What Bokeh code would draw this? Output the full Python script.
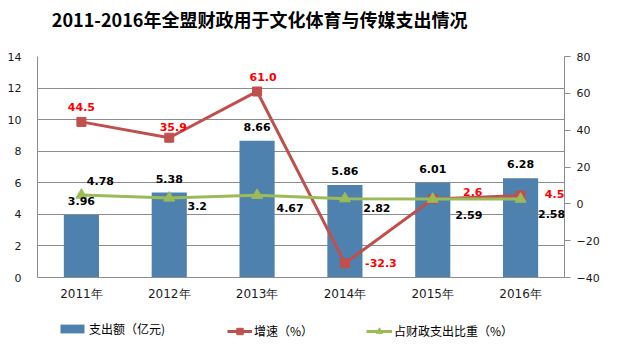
from bokeh.plotting import figure
from bokeh.layouts import column
from bokeh.models import (ColumnDataSource, Range1d, LinearAxis, FixedTicker, Label,
                          LabelSet, Legend, LegendItem)
from bokeh.core.properties import value
from bokeh.embed import file_html
from bokeh.resources import INLINE

years = ["2011年", "2012年", "2013年", "2014年", "2015年", "2016年"]
spend = [3.96, 5.38, 8.66, 5.86, 6.01, 6.28]
growth = [44.5, 35.9, 61.0, -32.3, 2.6, 4.5]
share = [4.78, 3.2, 4.67, 2.82, 2.59, 2.58]

spend_lbl = ["%.2f" % v for v in spend]
growth_lbl = ["%.1f" % v for v in growth]
share_lbl = [str(v) for v in share]

# label offsets (screen px) - style only
share_dx = [19, 28, 33, 32, 36, 31]
share_dy = [14, -8, -13, -9, -16, -15]
growth_dx = [0, 4, 6, 36, 40, 34]
growth_dy = [15, 11, 14, 0, 7, 2]

src = ColumnDataSource(dict(x=years, spend=spend, growth=growth, share=share,
                            spend_lbl=spend_lbl, growth_lbl=growth_lbl, share_lbl=share_lbl,
                            sdx=share_dx, sdy=share_dy, gdx=growth_dx, gdy=growth_dy))

FONT = "DejaVu Sans"
CJK = "Noto Sans CJK SC"
GRID = "#8c8c8c"
BLUE = "#4f81ae"
RED = "#c0504d"
GREEN = "#9bbb59"

# ---- title strip ----
TITLE_H = 36
t = figure(width=617, height=TITLE_H, x_range=Range1d(0, 617), y_range=Range1d(0, 1),
           output_backend="svg", toolbar_location=None, x_axis_type=None, y_axis_type=None,
           min_border=0)
t.outline_line_color = None
t.xgrid.visible = False
t.ygrid.visible = False
t.add_layout(Label(x=260, y=0.5, text="2011-2016年全盟财政用于文化体育与传媒支出情况",
                   text_align="center", text_baseline="middle", text_font=CJK,
                   text_font_size="18px", text_font_style="bold", text_color="black"))

# ---- main chart ----
MAIN_H = 310 - TITLE_H
p = figure(width=617, height=MAIN_H, x_range=years, y_range=Range1d(0, 14),
           output_backend="svg", toolbar_location=None,
           min_border_left=37, min_border_right=53, min_border_top=56 - TITLE_H,
           min_border_bottom=310 - 277)
p.outline_line_color = None
p.extra_y_ranges = {"right": Range1d(-40, 80)}

p.xgrid.grid_line_color = None
p.ygrid.grid_line_color = GRID
p.ygrid.grid_line_width = 1
p.ygrid.ticker = FixedTicker(ticks=[0, 2, 4, 6, 8, 10, 12, 14])

p.yaxis.ticker = FixedTicker(ticks=[0, 2, 4, 6, 8, 10, 12, 14])
for ax in [p.yaxis[0], p.xaxis[0]]:
    ax.axis_line_color = GRID
    ax.major_tick_line_color = None
    ax.minor_tick_line_color = None
    ax.major_label_text_font = FONT
    ax.major_label_text_font_size = "11px"
    ax.major_label_text_color = "#1a1a1a"
p.yaxis.major_label_standoff = 10
p.xaxis.major_label_standoff = 3
p.xaxis.major_label_text_font_size = "12px"

ra = LinearAxis(y_range_name="right", ticker=FixedTicker(ticks=[-40, -20, 0, 20, 40, 60, 80]))
ra.axis_line_color = GRID
ra.major_tick_line_color = GRID
ra.major_tick_in = 0
ra.major_tick_out = 6
ra.minor_tick_line_color = None
ra.major_label_text_font = FONT
ra.major_label_text_font_size = "11px"
ra.major_label_text_color = "#1a1a1a"
ra.major_label_standoff = 6
p.add_layout(ra, "right")

p.vbar(x="x", top="spend", width=0.4, source=src, fill_color=BLUE, line_color=None)
p.line(x="x", y="growth", source=src, y_range_name="right", line_color=RED, line_width=3)
p.scatter(x="x", y="growth", source=src, y_range_name="right", marker="square",
          size=9, fill_color=RED, line_color=RED)
p.line(x="x", y="share", source=src, y_range_name="right", line_color=GREEN, line_width=3)
p.scatter(x="x", y="share", source=src, y_range_name="right", marker="triangle",
          size=11, fill_color=GREEN, line_color=GREEN)

LBL = dict(text_align="center", text_baseline="middle", text_font=value(FONT),
           text_font_size="11px", text_font_style="bold")
p.add_layout(LabelSet(x="x", y="spend", text="spend_lbl", source=src, y_offset=14,
                      text_color="black", **LBL))
p.add_layout(LabelSet(x="x", y="growth", text="growth_lbl", source=src, y_range_name="right",
                      x_offset="gdx", y_offset="gdy", text_color="#ff0000", **LBL))
p.add_layout(LabelSet(x="x", y="share", text="share_lbl", source=src, y_range_name="right",
                      x_offset="sdx", y_offset="sdy", text_color="black", **LBL))

# ---- legend strip (same data, drawn outside its visible range) ----
LEG_H = 353 - 310
q = figure(width=617, height=LEG_H, x_range=years, y_range=Range1d(1000, 1001),
           output_backend="svg", toolbar_location=None, x_axis_type=None, y_axis_type=None,
           min_border=0)
q.outline_line_color = None
q.xgrid.visible = False
q.ygrid.visible = False
lb = q.vbar(x="x", top="spend", width=0.4, source=src, fill_color=BLUE, line_color=None)
ll = q.line(x="x", y="growth", source=src, line_color=RED, line_width=3)
lm = q.scatter(x="x", y="growth", source=src, marker="square", size=9,
               fill_color=RED, line_color=RED)
gl = q.line(x="x", y="share", source=src, line_color=GREEN, line_width=3)
gm = q.scatter(x="x", y="share", source=src, marker="triangle", size=11,
               fill_color=GREEN, line_color=GREEN)

def mk_legend(label, rends, x, gw, gh, y):
    return Legend(items=[LegendItem(label=label, renderers=rends)], location=(x, y),
                  glyph_width=gw, glyph_height=gh, label_text_font=CJK,
                  label_text_font_size="12px", label_text_color="black",
                  label_height=gh, background_fill_alpha=0, border_line_color=None,
                  padding=0, margin=0, label_standoff=2)

cy = 353 - 329  # legend centre height from strip bottom
q.add_layout(mk_legend("支出额（亿元)", [lb], 20, 30, 11, cy - 8))
q.add_layout(mk_legend("增速（%）", [ll, lm], 190, 25, 16, cy - 10))
q.add_layout(mk_legend("占财政支出比重（%）", [gl, gm], 329, 26, 16, cy - 10))

layout = column(t, p, q, spacing=0)
open("out.html", "w").write(file_html(layout, INLINE))
